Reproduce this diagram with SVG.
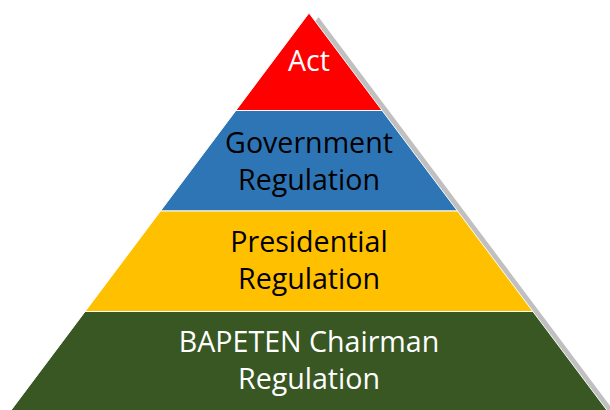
<svg xmlns="http://www.w3.org/2000/svg" width="610" height="410" viewBox="0 0 610 410">
  <style>
    .layer { stroke: #FFFFFF; stroke-width: 1; stroke-linejoin: miter; }
    .lbl { font-family: "Open Sans", "Liberation Sans", sans-serif; font-size: 28.6px; text-anchor: middle; }
    .dark { fill: #000000; }
    .light { fill: #FFFFFF; }
  </style>
  <rect width="610" height="410" fill="#FFFFFF"/>
  <polygon id="shadow" points="318.5,17 5,435 632,435" fill="#C0C0C0"/>
  <g id="act">
    <polygon class="layer" points="309,13 235.9,110.5 382.1,110.5" fill="#FF0000"/>
    <text class="lbl light" x="309" y="71">Act</text>
  </g>
  <g id="government-regulation">
    <polygon class="layer" points="235.9,110.5 382.1,110.5 457.5,211 160.5,211" fill="#2E75B6"/>
    <text class="lbl dark" x="309" y="153">Government</text>
    <text class="lbl dark" x="309" y="190">Regulation</text>
  </g>
  <g id="presidential-regulation">
    <polygon class="layer" points="160.5,211 457.5,211 532.9,311.5 85.1,311.5" fill="#FFC000"/>
    <text class="lbl dark" x="309" y="252">Presidential</text>
    <text class="lbl dark" x="309" y="289">Regulation</text>
  </g>
  <g id="bapeten-chairman-regulation">
    <polygon class="layer" points="85.1,311.5 532.9,311.5 615,421 3,421" fill="#385723"/>
    <text class="lbl light" x="309" y="352">BAPETEN Chairman</text>
    <text class="lbl light" x="309" y="389">Regulation</text>
  </g>
</svg>
